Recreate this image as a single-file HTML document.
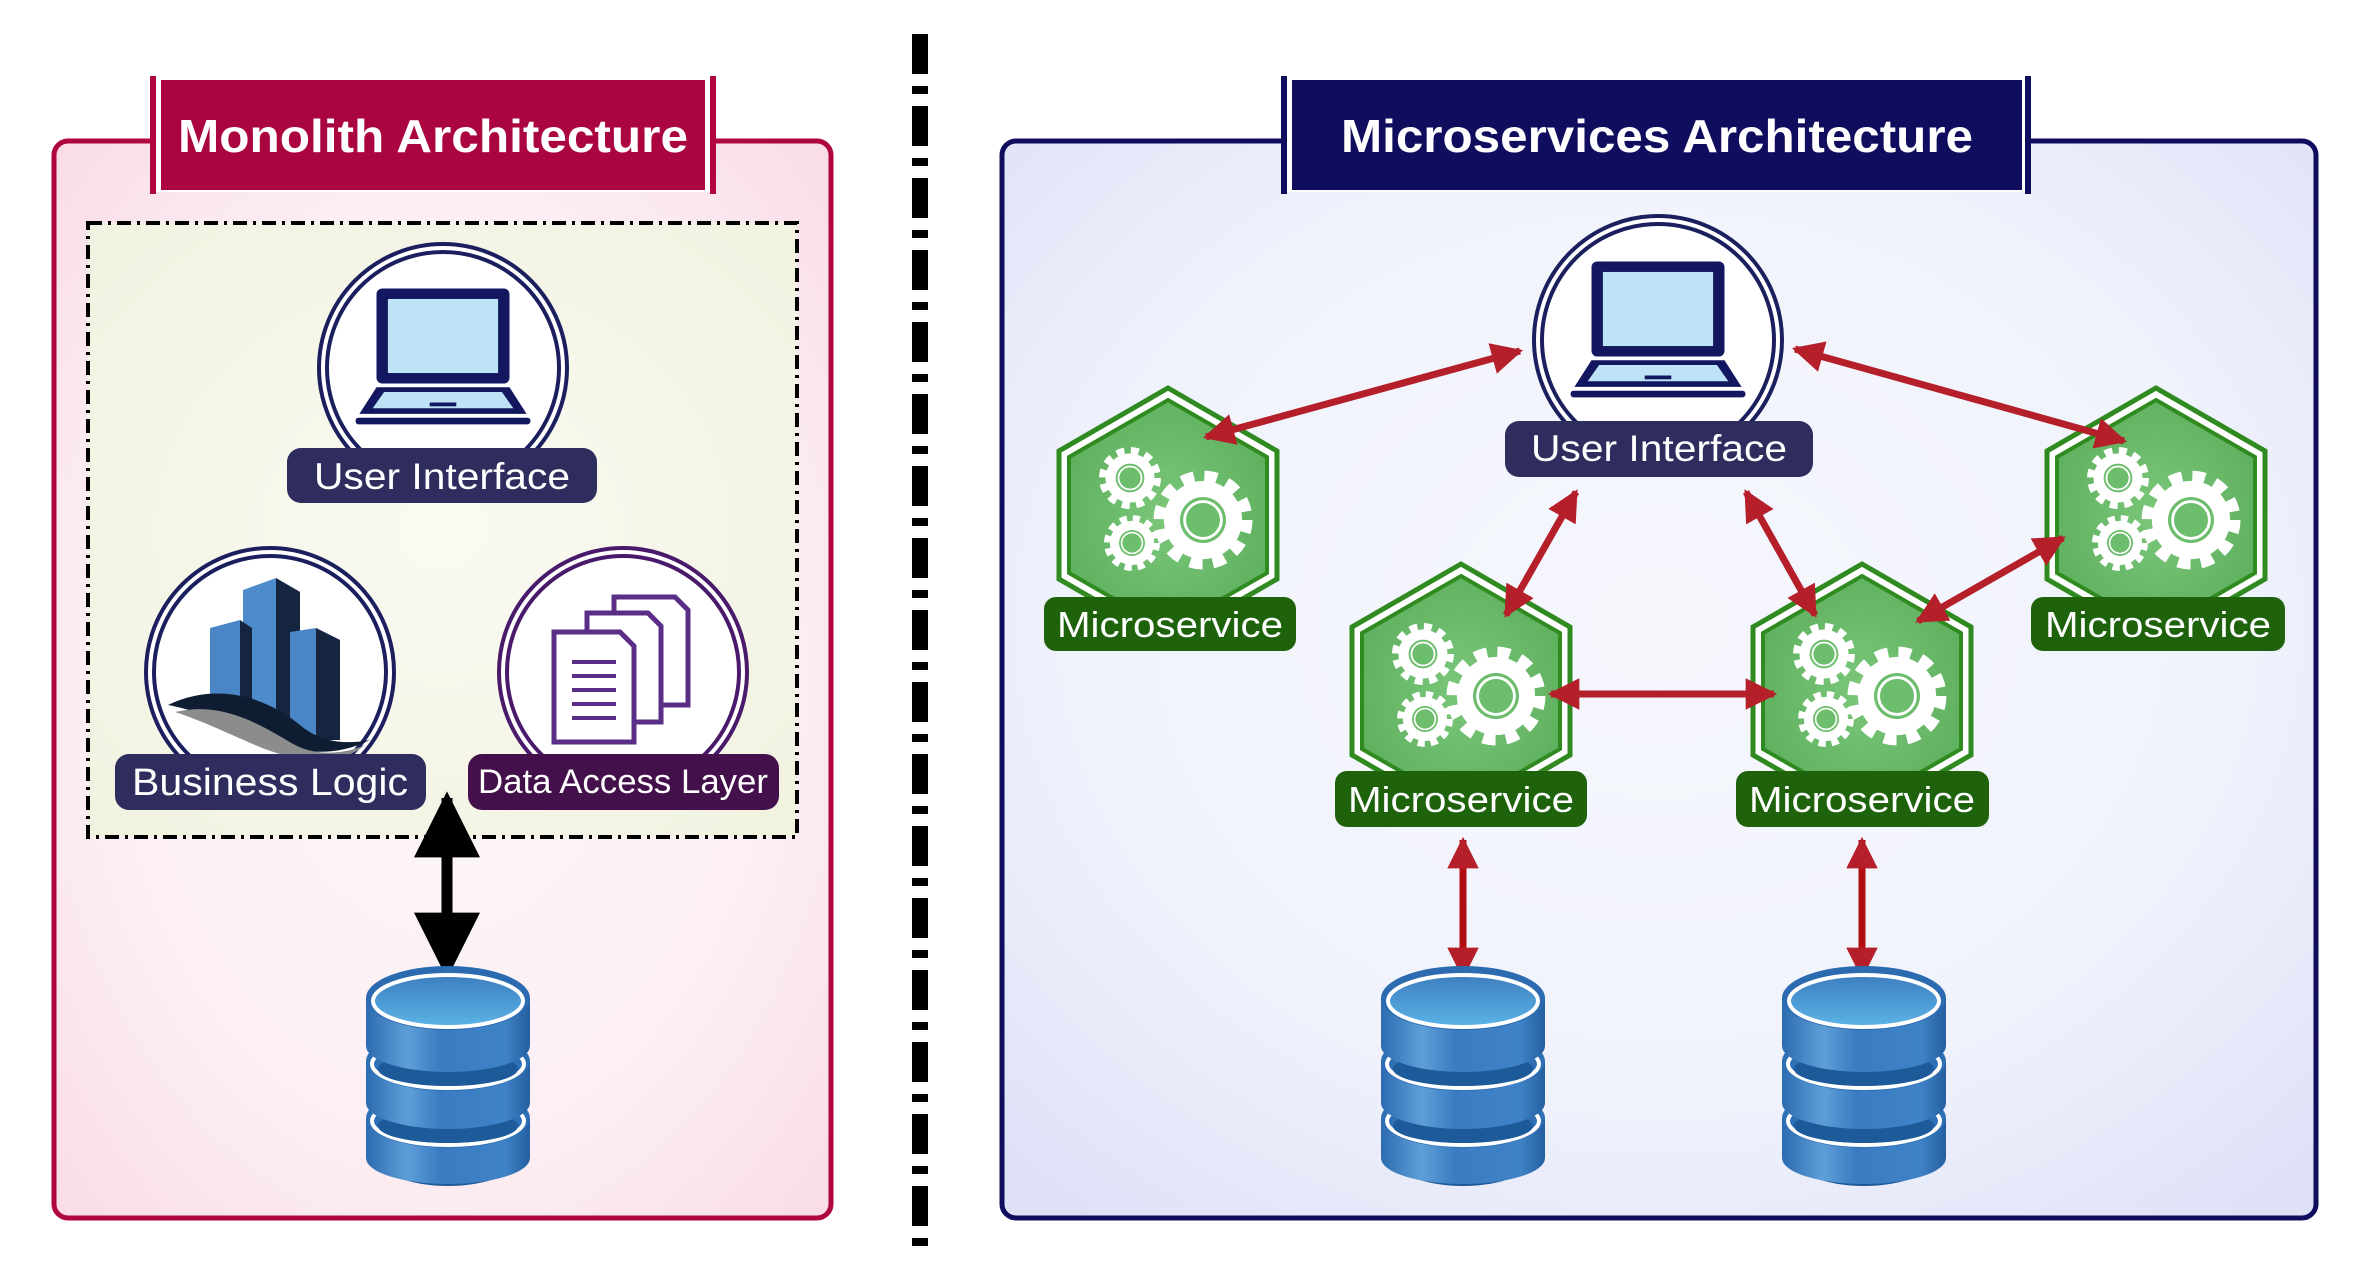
<!DOCTYPE html>
<html><head><meta charset="utf-8"><style>
html,body{margin:0;padding:0;background:#fff;}
svg{display:block;}
text{font-family:"Liberation Sans",sans-serif;}
</style></head><body>
<svg width="2363" height="1276" viewBox="0 0 2363 1276" xmlns="http://www.w3.org/2000/svg">
<defs>
<radialGradient id="pink" cx="50%" cy="50%" r="70%"><stop offset="0" stop-color="#fdf6f9"/><stop offset="0.6" stop-color="#fcf0f5"/><stop offset="1" stop-color="#f9dce7"/></radialGradient>
<radialGradient id="cream" cx="50%" cy="50%" r="70%"><stop offset="0" stop-color="#fafaf3"/><stop offset="1" stop-color="#f1f2df"/></radialGradient>
<radialGradient id="blue" cx="50%" cy="45%" r="70%"><stop offset="0" stop-color="#f6f7fd"/><stop offset="0.6" stop-color="#f1f3fc"/><stop offset="1" stop-color="#dfe2f7"/></radialGradient>
<radialGradient id="hexg" cx="50%" cy="50%" r="60%"><stop offset="0" stop-color="#7bc77b"/><stop offset="1" stop-color="#5cae5c"/></radialGradient>
<linearGradient id="dbbody" x1="0" x2="1" y1="0" y2="0"><stop offset="0" stop-color="#2c6bb0"/><stop offset="0.25" stop-color="#5f9fd8"/><stop offset="0.45" stop-color="#3a7cc2"/><stop offset="0.85" stop-color="#3f82c6"/><stop offset="1" stop-color="#245f9f"/></linearGradient>
<linearGradient id="dbtop" x1="0" x2="0" y1="0" y2="1"><stop offset="0" stop-color="#3d7ec0"/><stop offset="1" stop-color="#5bb4e6"/></linearGradient>
<marker id="rh" viewBox="0 0 10 10" refX="9" refY="5" markerWidth="4.5" markerHeight="4.5" orient="auto-start-reverse"><path d="M0,0 L10,5 L0,10 z" fill="#b51f2a"/></marker>
<marker id="bh" viewBox="0 0 10 10" refX="9" refY="5" markerWidth="6" markerHeight="6" orient="auto-start-reverse"><path d="M0,0 L10,5 L0,10 z" fill="#000"/></marker>
<g id="db">
  <ellipse cx="85" cy="205" rx="70" ry="28" fill="#1f5a98"/>
  <rect x="3" y="165" width="164" height="40" fill="url(#dbbody)"/>
  <ellipse cx="85" cy="205" rx="82" ry="26" fill="url(#dbbody)"/>
  <ellipse cx="85" cy="165" rx="82" ry="30" fill="#2f6fb4"/>
  <ellipse cx="85" cy="168" rx="76" ry="24" fill="none" stroke="#fff" stroke-width="4"/>
  <ellipse cx="85" cy="173" rx="70" ry="17" fill="#1d5a99"/>
  <rect x="3" y="108" width="164" height="42" fill="url(#dbbody)"/>
  <ellipse cx="85" cy="150" rx="82" ry="26" fill="url(#dbbody)"/>
  <ellipse cx="85" cy="108" rx="82" ry="30" fill="#2f6fb4"/>
  <ellipse cx="85" cy="111" rx="76" ry="24" fill="none" stroke="#fff" stroke-width="4"/>
  <ellipse cx="85" cy="116" rx="70" ry="17" fill="#1d5a99"/>
  <rect x="3" y="45" width="164" height="48" fill="url(#dbbody)"/>
  <ellipse cx="85" cy="93" rx="82" ry="26" fill="url(#dbbody)"/>
  <ellipse cx="85" cy="45" rx="82" ry="32" fill="#2c6bb0"/>
  <ellipse cx="85" cy="48" rx="75" ry="26" fill="url(#dbtop)" stroke="#fff" stroke-width="4"/>
</g>
<g id="gear">
  <circle r="34" fill="#fff"/>
  <circle r="38" fill="none" stroke="#fff" stroke-width="10" stroke-dasharray="11 9"/>
  <circle r="20" fill="#6cbd6c"/>
  <circle r="16" fill="none" stroke="#fff" stroke-width="2.5"/>
</g>
<g id="hex">
  <polygon points="0,-127 109,-64 109,64 0,127 -109,64 -109,-64" fill="#fff" stroke="#2f8a1f" stroke-width="5"/>
  <polygon points="0,-115 99,-58 99,58 0,115 -99,58 -99,-58" fill="url(#hexg)" stroke="#2f8a1f" stroke-width="4"/>
  <use href="#gear" transform="translate(35,5) scale(1.15)"/>
  <use href="#gear" transform="translate(-38,-37) scale(0.72)"/>
  <use href="#gear" transform="translate(-36,28) scale(0.65)"/>
</g>
<g id="laptop">
  <rect x="-70" y="-70" width="140" height="100" rx="6" fill="#121760"/>
  <rect x="-58" y="-59" width="116" height="78" fill="#bee3f6"/>
  <path d="M-70,34 L70,34 L88,62 L-88,62 Z" fill="#121760"/>
  <path d="M-62,39 L62,39 L74,56 L-74,56 Z" fill="#bee3f6"/>
  <rect x="-14" y="50" width="28" height="4" fill="#121760"/>
  <rect x="-92" y="66" width="184" height="7" rx="3" fill="#121760"/>
</g>
</defs>

<rect x="54" y="141" width="777" height="1077" rx="14" fill="url(#pink)" stroke="#b0063f" stroke-width="5"/>
<rect x="150" y="78" width="566" height="114" fill="#fff"/>
<rect x="150" y="76" width="6" height="118" fill="#b0063f"/>
<rect x="710" y="76" width="6" height="118" fill="#b0063f"/>
<rect x="161" y="80" width="544" height="110" fill="#ab0541"/>
<text x="433" y="152" font-size="46" font-weight="bold" fill="#fff" text-anchor="middle" textLength="510" lengthAdjust="spacingAndGlyphs">Monolith Architecture</text>

<rect x="88" y="223" width="709" height="614" fill="url(#cream)" stroke="#000" stroke-width="4" stroke-dasharray="14 6 3 6"/>

<circle cx="443" cy="368" r="124" fill="#fff" stroke="#1b1f5e" stroke-width="4"/>
<circle cx="443" cy="368" r="116" fill="#fff" stroke="#1b1f5e" stroke-width="4"/>
<use href="#laptop" transform="translate(443,355) scale(0.95)"/>
<rect x="287" y="448" width="310" height="55" rx="14" fill="#2e2d5e"/>
<text x="442" y="489" font-size="37" fill="#fff" text-anchor="middle" textLength="256" lengthAdjust="spacingAndGlyphs">User Interface</text>

<circle cx="270" cy="672" r="124" fill="#fff" stroke="#1b1f5e" stroke-width="4"/>
<circle cx="270" cy="672" r="116" fill="#fff" stroke="#1b1f5e" stroke-width="4"/>
<g>
  <path d="M210,628 L240,620 L240,720 L210,720 Z" fill="#4a86c6"/>
  <path d="M243,590 L276,578 L300,592 L300,735 L243,735 Z" fill="#4d8bcb"/>
  <path d="M276,578 L300,592 L300,735 L276,735 Z" fill="#15253f"/>
  <path d="M290,632 L316,628 L340,640 L340,740 L290,740 Z" fill="#4a86c6"/>
  <path d="M316,628 L340,640 L340,740 L316,740 Z" fill="#15253f"/>
  <path d="M240,620 L252,628 L252,720 L240,720 Z" fill="#15253f"/>
  <path d="M168,705 C220,680 270,700 300,725 C320,742 345,745 370,740 C330,760 290,752 255,735 C225,722 195,710 168,705 Z" fill="#0f1d33"/>
  <path d="M175,712 C225,700 265,728 295,745 C320,758 350,752 365,745 C335,770 290,760 255,745 C225,732 200,720 175,712 Z" fill="#8c8c8c"/>
</g>
<rect x="115" y="754" width="311" height="56" rx="14" fill="#2e2d5e"/>
<text x="270" y="795" font-size="38" fill="#fff" text-anchor="middle" textLength="276" lengthAdjust="spacingAndGlyphs">Business Logic</text>

<circle cx="623" cy="672" r="124" fill="#fff" stroke="#4a1a6a" stroke-width="4"/>
<circle cx="623" cy="672" r="116" fill="#fff" stroke="#4a1a6a" stroke-width="4"/>
<g fill="#fff" stroke="#5a2d86" stroke-width="5">
  <path d="M614,597 L675,597 L688,610 L688,705 L614,705 Z"/>
  <path d="M587,613 L648,613 L661,626 L661,722 L587,722 Z"/>
  <path d="M554,632 L620,632 L634,646 L634,742 L554,742 Z"/>
</g>
<g stroke="#5a2d86" stroke-width="4"><line x1="572" y1="662" x2="616" y2="662"/><line x1="572" y1="676" x2="616" y2="676"/><line x1="572" y1="690" x2="616" y2="690"/><line x1="572" y1="704" x2="616" y2="704"/><line x1="572" y1="718" x2="616" y2="718"/></g>
<rect x="468" y="754" width="311" height="56" rx="14" fill="#44104c"/>
<text x="623" y="793" font-size="34" fill="#fff" text-anchor="middle" textLength="290" lengthAdjust="spacingAndGlyphs">Data Access Layer</text>

<line x1="447" y1="798" x2="447" y2="972" stroke="#000" stroke-width="11" marker-start="url(#bh)" marker-end="url(#bh)"/>
<use href="#db" transform="translate(363,953)"/>

<line x1="920" y1="34" x2="920" y2="1256" stroke="#000" stroke-width="16" stroke-dasharray="40 12 8 12"/>

<rect x="1002" y="141" width="1314" height="1077" rx="14" fill="url(#blue)" stroke="#100c5e" stroke-width="5"/>
<rect x="1281" y="78" width="750" height="114" fill="#fff"/>
<rect x="1281" y="76" width="6" height="118" fill="#100c5e"/>
<rect x="2025" y="76" width="6" height="118" fill="#100c5e"/>
<rect x="1292" y="80" width="730" height="110" fill="#100c5e"/>
<text x="1657" y="152" font-size="46" font-weight="bold" fill="#fff" text-anchor="middle" textLength="632" lengthAdjust="spacingAndGlyphs">Microservices Architecture</text>

<circle cx="1658" cy="340" r="124" fill="#fff" stroke="#1b1f5e" stroke-width="4"/>
<circle cx="1658" cy="340" r="116" fill="#fff" stroke="#1b1f5e" stroke-width="4"/>
<use href="#laptop" transform="translate(1658,328) scale(0.95)"/>
<rect x="1505" y="421" width="308" height="56" rx="14" fill="#2e2d5e"/>
<text x="1659" y="461" font-size="37" fill="#fff" text-anchor="middle" textLength="256" lengthAdjust="spacingAndGlyphs">User Interface</text>

<use href="#hex" transform="translate(1168,515)"/>
<rect x="1044" y="597" width="252" height="54" rx="12" fill="#1e620c"/>
<text x="1170" y="637" font-size="36" fill="#fff" text-anchor="middle" textLength="226" lengthAdjust="spacingAndGlyphs">Microservice</text>

<use href="#hex" transform="translate(2156,515)"/>
<rect x="2031" y="597" width="254" height="54" rx="12" fill="#1e620c"/>
<text x="2158" y="637" font-size="36" fill="#fff" text-anchor="middle" textLength="226" lengthAdjust="spacingAndGlyphs">Microservice</text>

<use href="#hex" transform="translate(1461,691)"/>
<rect x="1335" y="771" width="252" height="56" rx="12" fill="#1e620c"/>
<text x="1461" y="812" font-size="36" fill="#fff" text-anchor="middle" textLength="226" lengthAdjust="spacingAndGlyphs">Microservice</text>

<use href="#hex" transform="translate(1862,691)"/>
<rect x="1736" y="771" width="253" height="56" rx="12" fill="#1e620c"/>
<text x="1862" y="812" font-size="36" fill="#fff" text-anchor="middle" textLength="226" lengthAdjust="spacingAndGlyphs">Microservice</text>

<g stroke="#b51f2a" stroke-width="7" fill="none">
  <line x1="1206" y1="437" x2="1520" y2="351" marker-start="url(#rh)" marker-end="url(#rh)"/>
  <line x1="1795" y1="349" x2="2124" y2="441" marker-start="url(#rh)" marker-end="url(#rh)"/>
  <line x1="1576" y1="492" x2="1506" y2="615" marker-start="url(#rh)" marker-end="url(#rh)"/>
  <line x1="1746" y1="492" x2="1815" y2="615" marker-start="url(#rh)" marker-end="url(#rh)"/>
  <line x1="1551" y1="694" x2="1774" y2="694" marker-start="url(#rh)" marker-end="url(#rh)"/>
  <line x1="2063" y1="538" x2="1918" y2="621" marker-start="url(#rh)" marker-end="url(#rh)"/>
</g>
<g stroke="#b00e12" stroke-width="7">
  <line x1="1463" y1="840" x2="1463" y2="976" marker-start="url(#rh)" marker-end="url(#rh)"/>
  <line x1="1862" y1="840" x2="1862" y2="976" marker-start="url(#rh)" marker-end="url(#rh)"/>
</g>
<use href="#db" transform="translate(1378,953)"/>
<use href="#db" transform="translate(1779,953)"/>
</svg>
</body></html>
